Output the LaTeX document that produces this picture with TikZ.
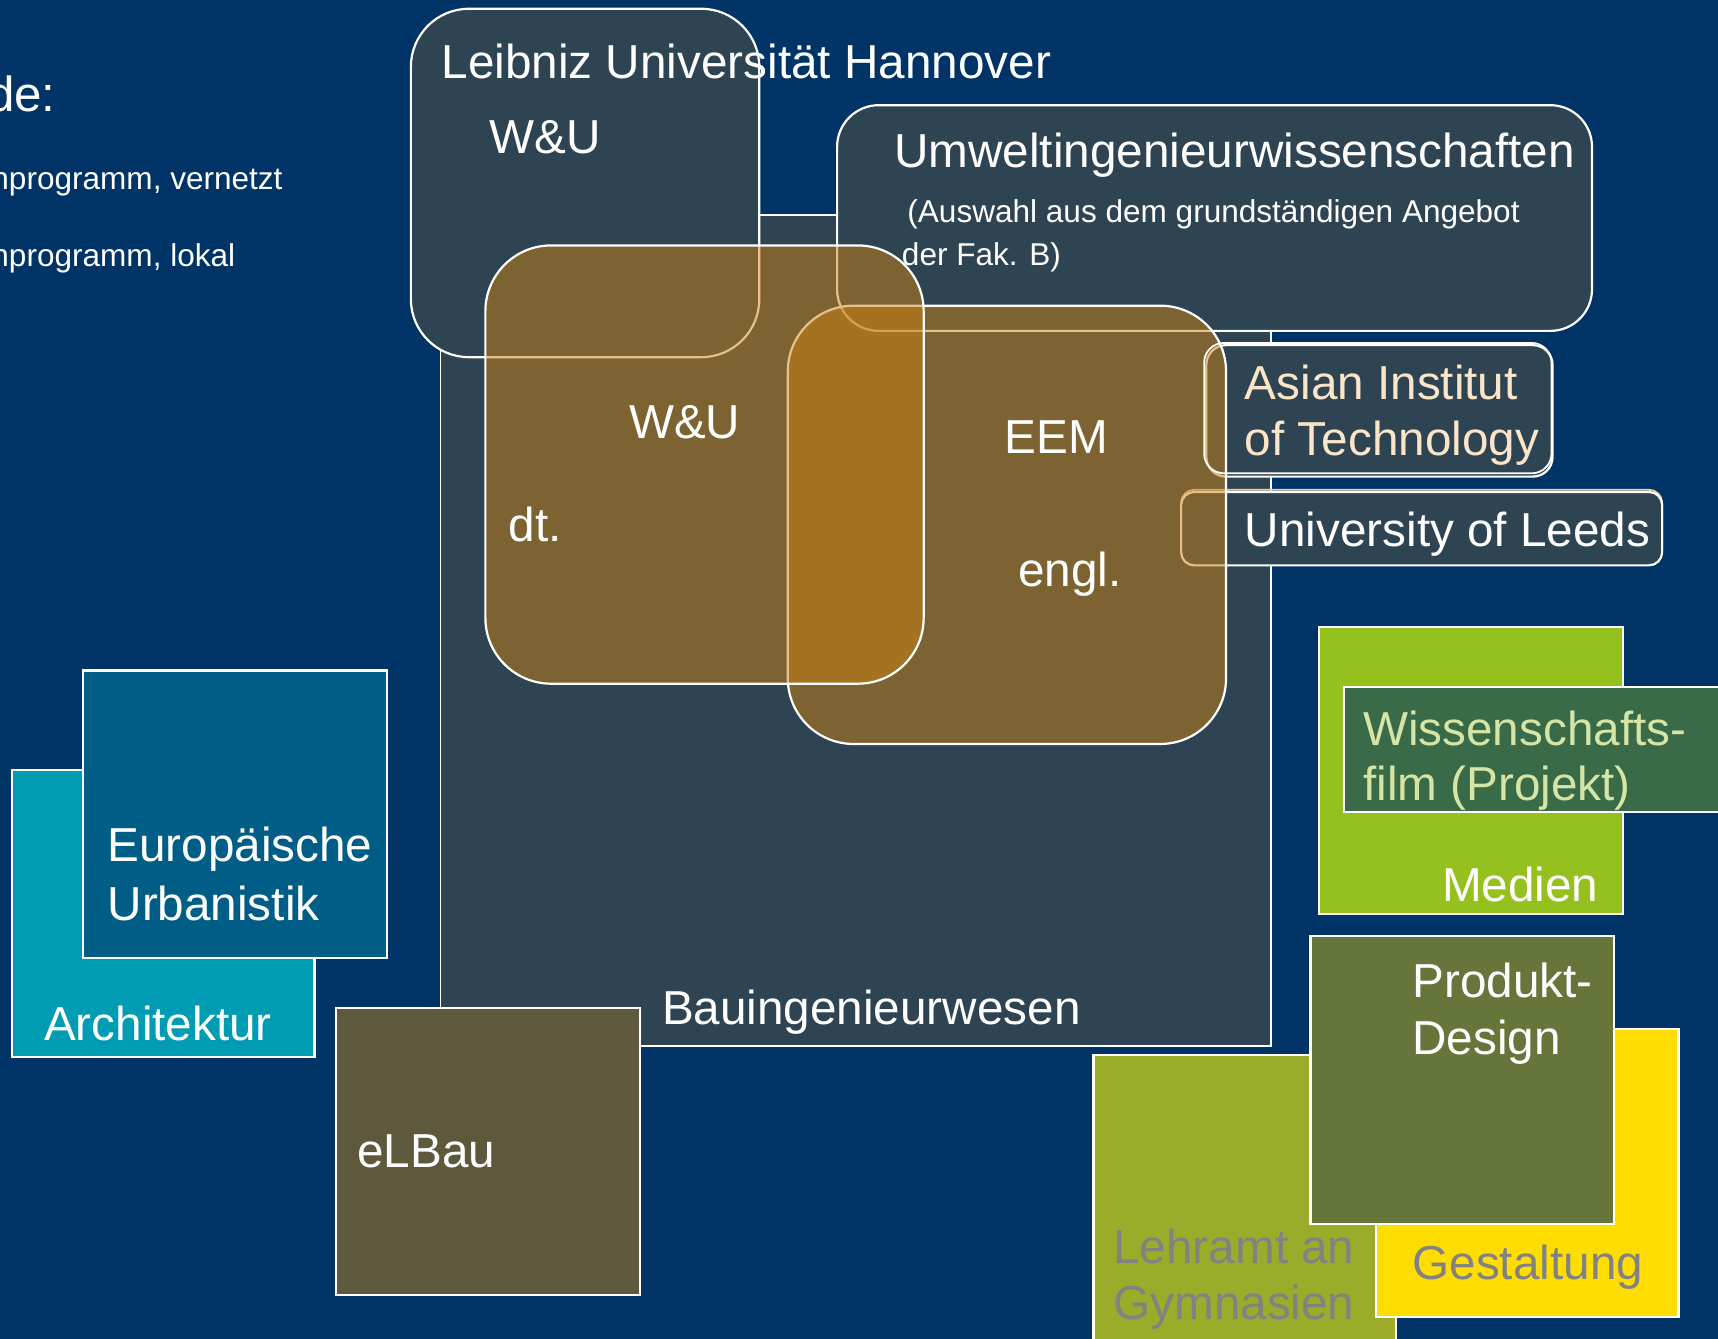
\documentclass[tikz,border=0pt]{standalone}
\usepackage{fontspec}
\setmainfont{Liberation Sans}
\definecolor{navy}{HTML}{003366}
\definecolor{slate}{HTML}{2F4452}
\definecolor{amber}{HTML}{CD8214}
\definecolor{peach}{HTML}{FBE5C8}
\definecolor{peachline}{HTML}{F2CF9E}
\definecolor{archi}{HTML}{009CB4}
\definecolor{europ}{HTML}{005E86}
\definecolor{elbau}{HTML}{5E583C}
\definecolor{medien}{HTML}{95C11F}
\definecolor{wiss}{HTML}{3A6B49}
\definecolor{wisstext}{HTML}{D6E5A6}
\definecolor{lehramt}{HTML}{9AAC29}
\definecolor{gestalt}{HTML}{FFDD00}
\definecolor{produkt}{HTML}{66763B}
\definecolor{greytext}{HTML}{828282}
\begin{document}
\begin{tikzpicture}[x=1pt,y=-1pt,
  area/.style={draw=white,line width=2pt},
  orangebox/.style={draw=white,line width=2pt,fill=amber,fill opacity=0.5,draw opacity=1,rounded corners=60pt},
  lbl/.style={anchor=base west,inner sep=0pt,text=white,font=\fontsize{43.5}{52}\selectfont},
  small/.style={anchor=base west,inner sep=0pt,text=white,font=\fontsize{28.8}{34}\selectfont},
  legendhead/.style={anchor=base west,inner sep=0pt,text=white,font=\fontsize{45}{54}\selectfont}]
\useasboundingbox (0,0) rectangle (1568,1222);
\clip (0,0) rectangle (1568,1222);
\fill[navy] (0,0) rectangle (1568,1222);

% legend
\node[legendhead] (leg) at (-12,102) {de:};
\node[small] (leg1) at (-8,173) {nprogramm, vernetzt};
\node[small] (leg2) at (-8,243) {nprogramm, lokal};

% Bauingenieurwesen
\draw[fill=slate,draw=white,line width=1.6pt] (402,196) rectangle (1160,955);
% LUH
\draw[area,fill=slate,rounded corners=53pt] (375,8) rectangle (693,326);
% Umwelt
\draw[area,fill=slate,rounded corners=38pt] (764,96) rectangle (1453,302);
% Asian (under)
\draw[area,fill=slate,rounded corners=18pt] (1101,315) rectangle (1417,435);
% Leeds
\draw[draw=peachline,line width=1.6pt,rounded corners=12pt] (1078,447) rectangle (1517,514);
\draw[area,fill=slate,rounded corners=12pt] (1078,449) rectangle (1517,516);
% orange boxes
\draw[orangebox] (719,279) rectangle (1119,679);
\draw[orangebox] (443,224) rectangle (843,624);
% Asian outline on top
\draw[draw=white,line width=1.6pt,rounded corners=18pt] (1099,313) rectangle (1416,432);

% texts upper
\node[lbl] (luh) at (403,72) {Leibniz Universität Hannover};
\node[lbl] (wu1) at (447,140) {W\&U};
\node[lbl] (umw) at (816,153) {Umweltingenieurwissenschaften};
\node[small] (aus1) at (828,203) {(Auswahl aus dem grundständigen Angebot};
\node[small] (aus2) at (823,242) {der Fak. B)};
\node[lbl] (wu2) at (574,400) {W\&U};
\node[lbl] (dt) at (464,494) {dt.};
\node[lbl] (eem) at (917,414) {EEM};
\node[lbl] (engl) at (929,535) {engl.};
\node[lbl,text=peach] (ait1) at (1136,365) {Asian Institut};
\node[lbl,text=peach] (ait2) at (1136,416) {of Technology};
\node[lbl] (leeds) at (1136,499) {University of Leeds};

% left group
\draw[area,fill=archi] (11,703) rectangle (287,965);
\draw[area,fill=europ] (76,612) rectangle (353,874);
\node[lbl] (eu1) at (98,786) {Europäische};
\node[lbl] (eu2) at (98,840) {Urbanistik};
\node[lbl] (arch) at (40,950) {Architektur};
\draw[area,fill=elbau] (307,920) rectangle (584,1182);
\node[lbl] (elb) at (326,1066) {eLBau};
\node[lbl] (bau) at (604,935) {Bauingenieurwesen};

% right group
\draw[area,fill=medien] (1204,572) rectangle (1481,834);
\draw[area,fill=wiss] (1227,627) rectangle (1600,741);
\node[lbl,text=wisstext] (wf1) at (1244,680) {Wissenschafts-};
\node[lbl,text=wisstext] (wf2) at (1244,731) {film (Projekt)};
\node[lbl] (med) at (1316,823) {Medien};
\draw[area,fill=lehramt] (998,963) rectangle (1274,1240);
\draw[area,fill=gestalt] (1256,939) rectangle (1532,1202);
\draw[area,fill=produkt] (1196,854) rectangle (1473,1117);
\node[lbl] (pd1) at (1289,910) {Produkt-};
\node[lbl] (pd2) at (1289,962) {Design};
\node[lbl,text=greytext] (la1) at (1016,1153) {Lehramt an};
\node[lbl,text=greytext] (la2) at (1016,1204) {Gymnasien};
\node[lbl,text=greytext] (gest) at (1289,1168) {Gestaltung};
\end{tikzpicture}
\end{document}
